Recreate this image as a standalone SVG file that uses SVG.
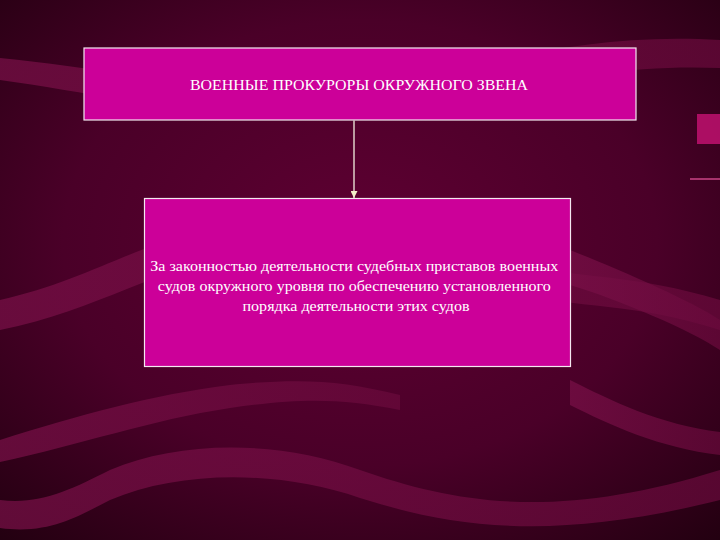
<svg xmlns="http://www.w3.org/2000/svg" width="720" height="540" viewBox="0 0 720 540">
<defs>
<radialGradient id="bg" cx="0.5" cy="0.45" r="0.75">
<stop offset="0" stop-color="#5e0032"/>
<stop offset="0.55" stop-color="#4a0028"/>
<stop offset="1" stop-color="#220010"/>
</radialGradient>
<linearGradient id="rib" x1="0" y1="0" x2="1" y2="0">
<stop offset="0" stop-color="#7a1048"/>
<stop offset="1" stop-color="#6a0a3c"/>
</linearGradient>
<marker id="arr" viewBox="0 0 8 8" refX="8" refY="4" markerWidth="7" markerHeight="7" orient="auto" markerUnits="userSpaceOnUse">
<path d="M0,0 L8,4 L0,8 Z" fill="#f2f0c8"/>
</marker>
<style>
.box{fill:#cc0099;stroke:#f4e8f0;stroke-width:1.2}
.t{font-family:"Liberation Serif","Times New Roman",serif;fill:#ffffff;text-anchor:middle}
.rb{fill:url(#rib);opacity:0.7}
</style>
</defs>
<rect width="720" height="540" fill="url(#bg)"/>
<g id="background">
<path class="rb" d="M0,58 C120,70 230,95 330,90 C450,80 560,30 720,40 L720,68 C570,62 470,108 340,118 C230,125 110,95 0,80 Z"/>
<path class="rb" d="M0,300 C90,280 140,240 230,225 C320,212 390,230 470,255 C560,280 620,270 720,300 L720,330 C620,298 560,310 470,285 C390,262 320,245 240,255 C160,265 100,310 0,330 Z"/>
<path class="rb" d="M0,440 C80,415 150,395 230,385 C300,378 340,380 400,395 L400,410 C340,398 300,398 230,408 C150,420 80,445 0,462 Z"/>
<path class="rb" d="M0,500 C40,505 70,490 110,470 C180,440 280,440 360,470 C460,505 560,520 720,470 L720,500 C560,540 460,530 360,498 C280,470 180,470 110,500 C80,515 50,535 0,528 Z"/>
<path class="rb" d="M570,250 C620,270 690,300 720,320 L720,350 C690,330 620,300 570,285 Z"/>
<path class="rb" d="M570,380 C610,400 660,425 720,432 L720,455 C660,448 610,425 570,405 Z"/>
<rect x="697" y="114" width="23" height="30" fill="#b8106a" opacity="0.9"/>
<rect x="690" y="178" width="30" height="2" fill="#c04080" opacity="0.8"/>
</g>
<g id="connectors">
<line x1="354" y1="120.6" x2="354" y2="198" stroke="#f4f0e0" stroke-width="1.3" marker-end="url(#arr)"/>
</g>
<g id="node1">
<rect class="box" x="84" y="48" width="552" height="72"/>
<text class="t" x="359" y="90" font-size="14" textLength="338" lengthAdjust="spacingAndGlyphs">ВОЕННЫЕ ПРОКУРОРЫ ОКРУЖНОГО ЗВЕНА</text>
</g>
<g id="node2">
<rect class="box" x="144.5" y="198.5" width="426" height="168"/>
<text class="t" font-size="14">
<tspan x="356" y="271" textLength="408" lengthAdjust="spacingAndGlyphs">За законностью деятельности судебных приставов военных</tspan>
<tspan x="356" y="291" textLength="393" lengthAdjust="spacingAndGlyphs">судов окружного уровня по обеспечению установленного</tspan>
<tspan x="356" y="311" textLength="227" lengthAdjust="spacingAndGlyphs">порядка деятельности этих судов</tspan>
</text>
</g>
</svg>
